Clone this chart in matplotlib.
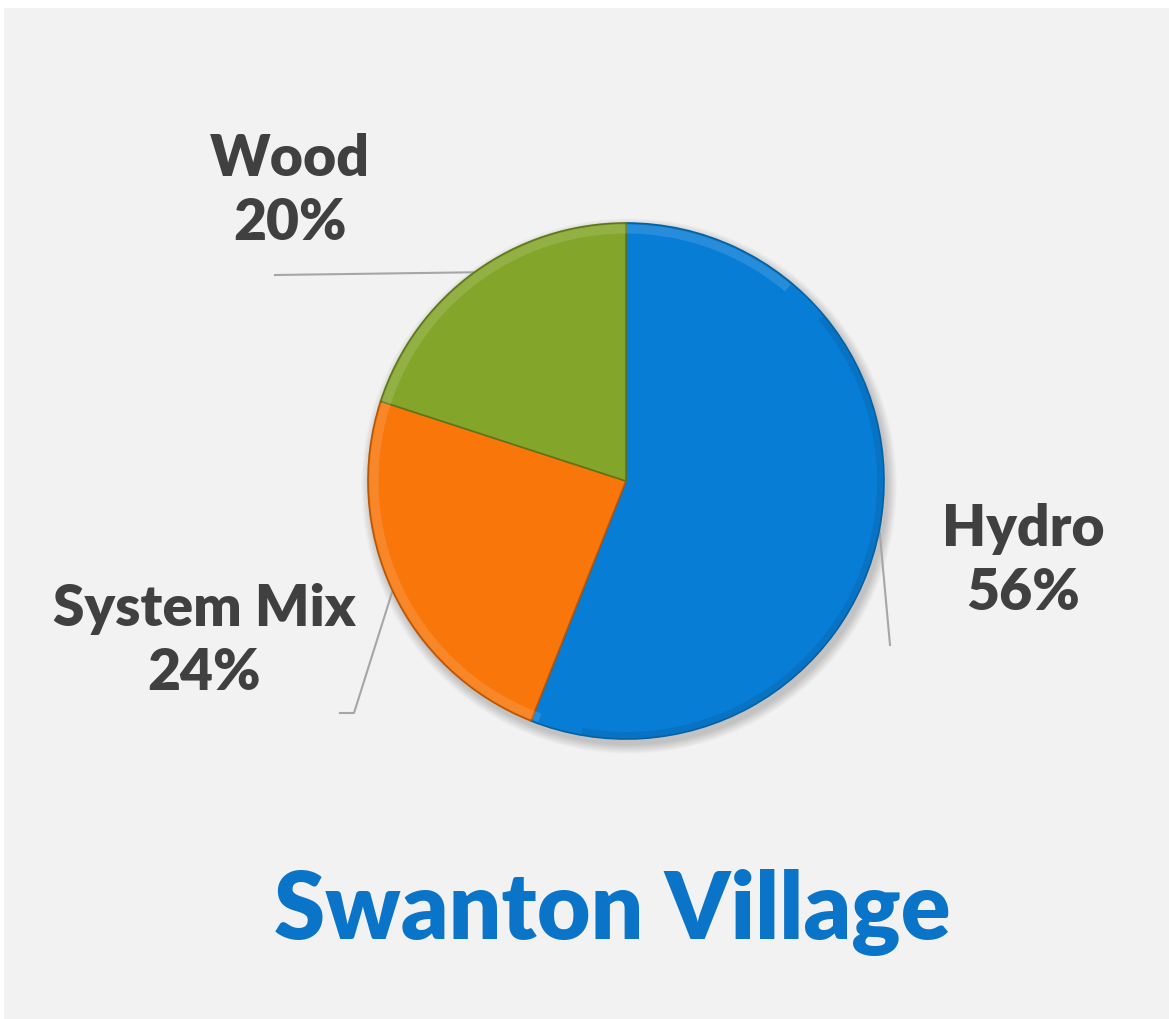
import numpy as np
import matplotlib
matplotlib.use('Agg')
import matplotlib.pyplot as plt
from matplotlib.patches import Rectangle, Circle, Wedge

labels = ['Hydro', 'System Mix', 'Wood']
shares = [56, 24, 20]
colors = ['#087dd6', '#f8760a', '#83a52a']
edge_colors = ['#05609f', '#b85505', '#5e761a']

# label text positions (image pixels, y down) and leader line end points
label_pos = [(1023, 561), (204, 641), (290, 191)]
leader_end = [[(890, 645)], [(354, 713), (340, 713)], [(275, 275)]]

W, H = 1169, 1019
fig = plt.figure(figsize=(W / 100, H / 100), dpi=100, facecolor='white')
ax = fig.add_axes([0, 0, 1, 1])

# gray panel
ax.add_patch(Rectangle((4, 0), W - 4, H - 8, facecolor='#f2f2f2', edgecolor='none', zorder=0))

cx, cy, r = 626, H - 481, 258

# soft shadow
for i in range(12):
    ax.add_patch(Circle((cx + 3, cy - 5), r + 1 + i * 0.8, facecolor='black',
                        edgecolor='none', alpha=0.016, zorder=1))

wedges, _ = ax.pie(shares, colors=colors, startangle=90, counterclock=False,
                   center=(cx, cy), radius=r, frame=True,
                   wedgeprops=dict(linewidth=1.2, zorder=2))
for w, ec in zip(wedges, edge_colors):
    w.set_edgecolor(ec)
ax.set_xlim(0, W)
ax.set_ylim(0, H)
ax.set_aspect('equal')
ax.axis('off')

# bevel: light rim upper-left, darker rim lower-right
ax.add_patch(Wedge((cx, cy), r - 1.5, 50, 250, width=9,
                   facecolor='white', alpha=0.13, edgecolor='none', zorder=3))
ax.add_patch(Wedge((cx, cy), r - 1, 260, 40, width=6,
                   facecolor='black', alpha=0.08, edgecolor='none', zorder=3))

# leader lines + labels
font = ['Lato', 'DejaVu Sans']
for w, lab, val, (lx, ly), pts in zip(wedges, labels, shares, label_pos, leader_end):
    mid = np.deg2rad((w.theta1 + w.theta2) / 2)
    sx, sy = cx + r * np.cos(mid), cy + r * np.sin(mid)
    xs = [sx] + [p[0] for p in pts]
    ys = [sy] + [H - p[1] for p in pts]
    ax.plot(xs, ys, color='#a6a6a6', lw=1.5, zorder=1.5)
    ax.text(lx, H - ly, f'{lab}\n{val}%', ha='center', va='center',
            fontsize=41, fontweight='heavy', family=font, color='#404040',
            linespacing=1.3)

ax.text(612, H - 912, 'Swanton Village', ha='center', va='center',
        fontsize=66.5, fontweight='heavy', family=font, color='#0a74c9')

fig.savefig('out.png', dpi=100, facecolor='white')
